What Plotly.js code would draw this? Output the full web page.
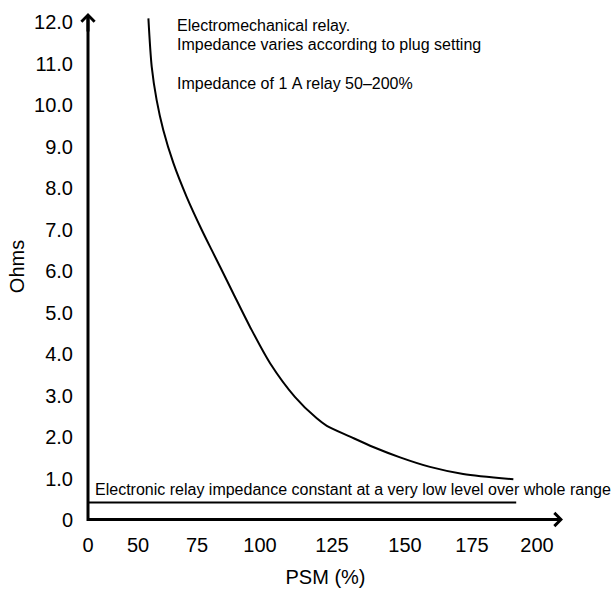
<!DOCTYPE html>
<html>
<head>
<meta charset="utf-8">
<script src="https://cdn.plot.ly/plotly-3.0.1.min.js"></script>
<style>html,body{margin:0;padding:0;background:#fff}#chart{width:615px;height:589px}</style>
</head>
<body>
<div id="chart"></div>
<script>
// ---- data ----
const psmTicks = [0, 50, 75, 100, 125, 150, 175, 200];
const psmTickLabels = ['0', '50', '75', '100', '125', '150', '175', '200'];
const ohmTicks = [0, 1, 2, 3, 4, 5, 6, 7, 8, 9, 10, 11, 12];
const ohmTickLabels = ['0', '1.0', '2.0', '3.0', '4.0', '5.0', '6.0', '7.0', '8.0', '9.0', '10.0', '11.0', '12.0'];

// Electromechanical relay impedance (ohms) vs PSM (%)
const emPsm = [54.4, 55.8, 57.9, 60.7, 65.0, 70.6, 76.9, 80.8, 84.1, 89.4, 96.0, 103.5, 112.1, 119.7, 123.2, 131.2, 139.1, 148.3, 159.3, 171.7, 190.9];
const emOhms = [12.09, 10.93, 10.12, 9.40, 8.60, 7.79, 6.99, 6.51, 6.11, 5.46, 4.66, 3.78, 2.97, 2.45, 2.27, 2.01, 1.76, 1.51, 1.28, 1.11, 0.98];

// Electronic relay impedance (constant)
const elPsm = [0, 192];
const elOhms = [0.42, 0.42];

// ---- hand-drawn (non-uniform) axis: where each labelled tick sits along the axis ----
const tickFrac = [0, 0.1053, 0.2295, 0.3621, 0.5137, 0.6674, 0.8084, 0.9453];
function warp(p) {
  for (let i = 0; i < psmTicks.length - 1; i++) {
    if (p <= psmTicks[i + 1] || i === psmTicks.length - 2) {
      const t = (p - psmTicks[i]) / (psmTicks[i + 1] - psmTicks[i]);
      return tickFrac[i] + t * (tickFrac[i + 1] - tickFrac[i]);
    }
  }
}

const font = 'Liberation Sans, Arial, sans-serif';

const traces = [
  {
    x: emPsm.map(warp), y: emOhms, type: 'scatter', mode: 'lines',
    line: {color: '#000', width: 2, shape: 'spline', smoothing: 0.8},
    hoverinfo: 'skip', showlegend: false
  },
  {
    x: elPsm.map(warp), y: elOhms, type: 'scatter', mode: 'lines',
    line: {color: '#000', width: 2},
    hoverinfo: 'skip', showlegend: false
  }
];

const layout = {
  width: 615, height: 589,
  margin: {l: 88, r: 52, t: 13, b: 69},
  paper_bgcolor: '#fff', plot_bgcolor: '#fff',
  font: {family: font, color: '#000', size: 20},
  showlegend: false,
  xaxis: {
    range: [0, 1], showgrid: false, zeroline: false, showline: false,
    tickmode: 'array', tickvals: psmTicks.map(warp), ticktext: psmTickLabels,
    ticks: '', ticklabelstandoff: 11,
    tickfont: {family: font, size: 20, color: '#000'},
    title: {text: 'PSM (%)', font: {family: font, size: 20, color: '#000'}, standoff: 14},
    fixedrange: true
  },
  yaxis: {
    range: [0, 12.22], showgrid: false, zeroline: false, showline: false,
    tickmode: 'array', tickvals: ohmTicks, ticktext: ohmTickLabels,
    ticks: '', ticklabelstandoff: 14,
    tickfont: {family: font, size: 20, color: '#000'},
    title: {text: 'Ohms', font: {family: font, size: 20, color: '#000'}, standoff: 4},
    fixedrange: true
  },
  shapes: [
    {type: 'path', xref: 'paper', yref: 'paper', path: 'M 0,0.995 L 0,0.001 L 0.99,0.001',
     line: {color: '#000', width: 3}}
  ],
  annotations: [
    // axis arrowheads
    {xref: 'paper', yref: 'paper', x: 1, y: 0.001, ax: -20, ay: 0, axref: 'pixel', ayref: 'pixel',
     showarrow: true, arrowhead: 4, arrowsize: 0.85, arrowwidth: 3, arrowcolor: '#000', text: ''},
    {xref: 'paper', yref: 'paper', x: 0, y: 1, ax: 0, ay: 20, axref: 'pixel', ayref: 'pixel',
     showarrow: true, arrowhead: 4, arrowsize: 0.85, arrowwidth: 3, arrowcolor: '#000', text: ''},
    // text notes
    {xref: 'paper', yref: 'paper', x: 0.184, y: 0.975, xanchor: 'left', yanchor: 'middle', showarrow: false,
     text: 'Electromechanical relay.', font: {family: font, size: 16, color: '#000'}},
    {xref: 'paper', yref: 'paper', x: 0.184, y: 0.938, xanchor: 'left', yanchor: 'middle', showarrow: false,
     text: 'Impedance varies according to plug setting', font: {family: font, size: 16, color: '#000'}},
    {xref: 'paper', yref: 'paper', x: 0.184, y: 0.861, xanchor: 'left', yanchor: 'middle', showarrow: false,
     text: 'Impedance of 1\u00a0A relay 50\u2013200%', font: {family: font, size: 16, color: '#000'}},
    {xref: 'paper', yref: 'paper', x: 0.0105, y: 0.061, xanchor: 'left', yanchor: 'middle', showarrow: false,
     text: 'Electronic relay impedance constant at a very low level over whole range', font: {family: font, size: 16, color: '#000'}}
  ]
};

Plotly.newPlot('chart', traces, layout, {staticPlot: true, displayModeBar: false});
</script>
</body>
</html>
